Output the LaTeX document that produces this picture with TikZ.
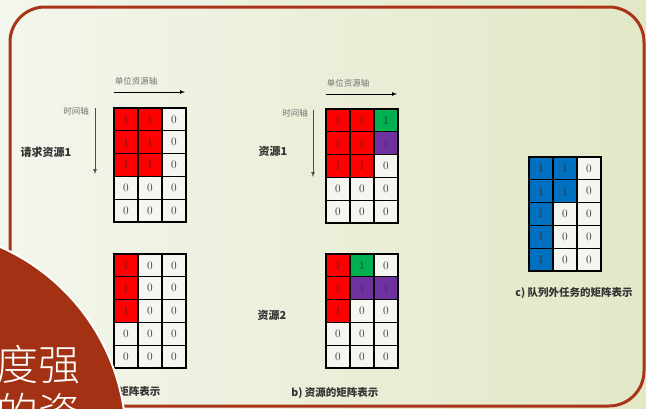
\documentclass[tikz,border=0pt]{standalone}
\usepackage{fontspec}
\newfontfamily\cjk{Noto Sans CJK SC}
\newfontfamily\cjkthin{Noto Sans CJK SC}[UprightFont={* Light}]
\usepackage{tikz}
\usetikzlibrary{positioning}

\definecolor{bgl}{HTML}{F3F6EC}
\definecolor{bgr}{HTML}{E2E8C6}
\definecolor{framered}{HTML}{A93419}
\definecolor{discred}{HTML}{A33214}
\definecolor{cellbg}{HTML}{F6F6F0}
\definecolor{cred}{HTML}{FF0000}
\definecolor{cgreen}{HTML}{00B050}
\definecolor{cpurple}{HTML}{7030A0}
\definecolor{cblue}{HTML}{0070C0}

\begin{document}
\begin{tikzpicture}[x=1pt,y=-1pt,
  cell/.style={draw=black,line width=1.2pt,fill=cellbg,minimum width=24pt,minimum height=22.8pt,
    inner sep=0pt,text=black!80,font=\fontsize{11.5}{11.5}\selectfont},
  axlab/.style={text=black!55,font=\cjk\fontsize{8.5}{9}\selectfont},
  mainlab/.style={text=black!80,font=\cjk\bfseries\fontsize{11}{12}\selectfont},
  caplab/.style={text=black!80,font=\cjk\bfseries\fontsize{10.5}{12}\selectfont},
  axis/.style={->,>=latex,line width=0.7pt}]
\useasboundingbox (0,0) rectangle (646,408);
\clip (0,0) rectangle (646,408);
%background
\shade[left color=bgl,right color=bgr] (0,0) rectangle (646,408);
\draw[framered,line width=3pt,rounded corners=35pt] (10,7) rectangle (644,406);

%request 1
\node[cell,fill=cred] (q1-1-1) at (126,119.4) {1}; \node[cell,fill=cred] (q1-1-2) at (150,119.4) {1}; \node[cell] (q1-1-3) at (174,119.4) {0};
\node[cell,fill=cred] (q1-2-1) at (126,142.2) {1}; \node[cell,fill=cred] (q1-2-2) at (150,142.2) {1}; \node[cell] (q1-2-3) at (174,142.2) {0};
\node[cell,fill=cred] (q1-3-1) at (126,165) {1}; \node[cell,fill=cred] (q1-3-2) at (150,165) {1}; \node[cell] (q1-3-3) at (174,165) {0};
\node[cell] (q1-4-1) at (126,187.8) {0}; \node[cell] (q1-4-2) at (150,187.8) {0}; \node[cell] (q1-4-3) at (174,187.8) {0};
\node[cell] (q1-5-1) at (126,210.6) {0}; \node[cell] (q1-5-2) at (150,210.6) {0}; \node[cell] (q1-5-3) at (174,210.6) {0};
%axes 1
\node[axlab] (ta1) at (136,81) {单位资源轴};
\node[axlab] (va1) at (76,111) {时间轴};
\node[mainlab] (la1) at (46,152) {请求资源1};
\coordinate (h1s) at (114,92); \coordinate (h1e) at (185,92);
\coordinate (v1s) at (95,108); \coordinate (v1e) at (95,174);
\draw[axis] (h1s) -- (h1e);
\draw[axis,black!70] (v1s) -- (v1e);

%request 2
\node[cell,fill=cred] (q2-1-1) at (126,265.4) {1}; \node[cell] (q2-1-2) at (150,265.4) {0}; \node[cell] (q2-1-3) at (174,265.4) {0};
\node[cell,fill=cred] (q2-2-1) at (126,288.2) {1}; \node[cell] (q2-2-2) at (150,288.2) {0}; \node[cell] (q2-2-3) at (174,288.2) {0};
\node[cell,fill=cred] (q2-3-1) at (126,311) {1}; \node[cell] (q2-3-2) at (150,311) {0}; \node[cell] (q2-3-3) at (174,311) {0};
\node[cell] (q2-4-1) at (126,333.8) {0}; \node[cell] (q2-4-2) at (150,333.8) {0}; \node[cell] (q2-4-3) at (174,333.8) {0};
\node[cell] (q2-5-1) at (126,356.6) {0}; \node[cell] (q2-5-2) at (150,356.6) {0}; \node[cell] (q2-5-3) at (174,356.6) {0};
\node[caplab,anchor=east] (capa) at (164,392) {矩阵表示};

%resource 1
\node[cell,fill=cred] (s1-1-1) at (338,120.4) {1}; \node[cell,fill=cred] (s1-1-2) at (362,120.4) {1}; \node[cell,fill=cgreen] (s1-1-3) at (386,120.4) {1};
\node[cell,fill=cred] (s1-2-1) at (338,143.2) {1}; \node[cell,fill=cred] (s1-2-2) at (362,143.2) {1}; \node[cell,fill=cpurple] (s1-2-3) at (386,143.2) {1};
\node[cell,fill=cred] (s1-3-1) at (338,166) {1}; \node[cell,fill=cred] (s1-3-2) at (362,166) {1}; \node[cell] (s1-3-3) at (386,166) {0};
\node[cell] (s1-4-1) at (338,188.8) {0}; \node[cell] (s1-4-2) at (362,188.8) {0}; \node[cell] (s1-4-3) at (386,188.8) {0};
\node[cell] (s1-5-1) at (338,211.6) {0}; \node[cell] (s1-5-2) at (362,211.6) {0}; \node[cell] (s1-5-3) at (386,211.6) {0};
%axes 2
\node[axlab] (ta2) at (348,83) {单位资源轴};
\node[axlab] (va2) at (295,113) {时间轴};
\node[mainlab] (la2) at (273,151) {资源1};
\coordinate (h2s) at (326,94); \coordinate (h2e) at (397,94);
\coordinate (v2s) at (313,110); \coordinate (v2e) at (313,177);
\draw[axis] (h2s) -- (h2e);
\draw[axis,black!70] (v2s) -- (v2e);

%resource 2
\node[cell,fill=cred] (s2-1-1) at (338,265.4) {1}; \node[cell,fill=cgreen] (s2-1-2) at (362,265.4) {1}; \node[cell] (s2-1-3) at (386,265.4) {0};
\node[cell,fill=cred] (s2-2-1) at (338,288.2) {1}; \node[cell,fill=cpurple] (s2-2-2) at (362,288.2) {1}; \node[cell,fill=cpurple] (s2-2-3) at (386,288.2) {1};
\node[cell,fill=cred] (s2-3-1) at (338,311) {1}; \node[cell] (s2-3-2) at (362,311) {0}; \node[cell] (s2-3-3) at (386,311) {0};
\node[cell] (s2-4-1) at (338,333.8) {0}; \node[cell] (s2-4-2) at (362,333.8) {0}; \node[cell] (s2-4-3) at (386,333.8) {0};
\node[cell] (s2-5-1) at (338,356.6) {0}; \node[cell] (s2-5-2) at (362,356.6) {0}; \node[cell] (s2-5-3) at (386,356.6) {0};
\node[mainlab] (la3) at (272,315) {资源2};
\node[caplab] (capb) at (335,393) {b) 资源的矩阵表示};

%waiting task
\node[cell,fill=cblue] (w-1-1) at (541,168.4) {1}; \node[cell,fill=cblue] (w-1-2) at (565,168.4) {1}; \node[cell] (w-1-3) at (589,168.4) {0};
\node[cell,fill=cblue] (w-2-1) at (541,191.2) {1}; \node[cell,fill=cblue] (w-2-2) at (565,191.2) {1}; \node[cell] (w-2-3) at (589,191.2) {0};
\node[cell,fill=cblue] (w-3-1) at (541,214) {1}; \node[cell] (w-3-2) at (565,214) {0}; \node[cell] (w-3-3) at (589,214) {0};
\node[cell,fill=cblue] (w-4-1) at (541,236.8) {1}; \node[cell] (w-4-2) at (565,236.8) {0}; \node[cell] (w-4-3) at (589,236.8) {0};
\node[cell,fill=cblue] (w-5-1) at (541,259.6) {1}; \node[cell] (w-5-2) at (565,259.6) {0}; \node[cell] (w-5-3) at (589,259.6) {0};
\node[caplab] (capc) at (574,293) {c) 队列外任务的矩阵表示};

%corner disc
\filldraw[fill=discred,draw=white,line width=2pt] (-85,440) circle (211);
\node[anchor=base west,inner sep=0pt,text=white,font=\cjkthin\fontsize{42}{50}\selectfont] (dt1) at (-4,380) {度强};
\node[anchor=base west,inner sep=0pt,text=white,font=\cjkthin\fontsize{42}{50}\selectfont] (dt2) at (-4,428) {的资};
\end{tikzpicture}
\end{document}
